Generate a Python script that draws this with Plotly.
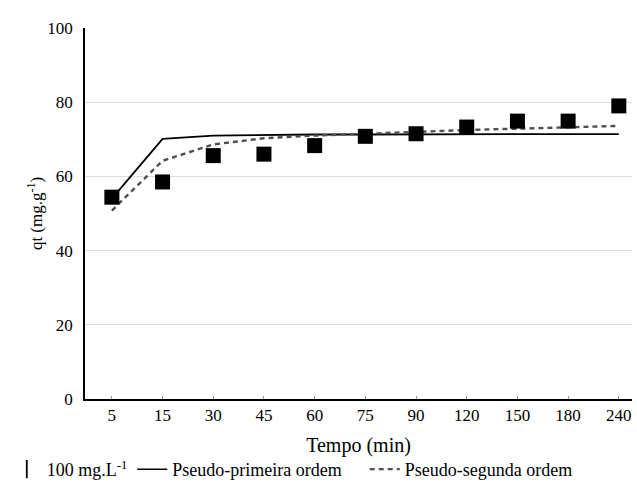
import plotly.graph_objects as go

tempo = ["5", "15", "30", "45", "60", "75", "90", "120", "150", "180", "240"]
qt_exp = [54.4, 58.5, 65.6, 66.0, 68.3, 70.8, 71.5, 73.3, 74.9, 74.9, 79.0]
qt_err = [0.8, 0.8, 0.8, 0.8, 0.8, 0.8, 0.8, 0.8, 0.8, 0.8, 0.8]
pfo = [54.0, 70.1, 71.0, 71.2, 71.3, 71.3, 71.4, 71.4, 71.4, 71.4, 71.4]
pso = [50.8, 64.2, 68.6, 70.3, 71.0, 71.6, 72.0, 72.5, 72.9, 73.1, 73.6]

font_family = "Liberation Serif, Times New Roman, serif"
NB = "\u00a0"

fig = go.Figure()
fig.add_trace(go.Scatter(
    x=tempo, y=pfo, mode="lines", name="Pseudo-primeira ordem",
    line=dict(color="black", width=1.8), showlegend=False))
fig.add_trace(go.Scatter(
    x=tempo, y=pso, mode="lines", name="Pseudo-segunda ordem",
    line=dict(color="#505050", width=2.4, dash="5px,4px"), showlegend=False))
fig.add_trace(go.Scatter(
    x=tempo, y=qt_exp, mode="markers", name="100 mg.L<sup>-1</sup>",
    marker=dict(symbol="square", size=15, color="black"),
    error_y=dict(type="data", array=qt_err, color="black", thickness=1, width=3),
    showlegend=False))

# legend entries
fig.add_trace(go.Scatter(
    x=[None], y=[None], mode="markers", name="100 mg.L<sup>-1</sup>",
    marker=dict(symbol="line-ns-open", size=13, color="black", line=dict(width=1.8))))
fig.add_trace(go.Scatter(
    x=[None], y=[None], mode="lines", name="Pseudo-primeira ordem" + NB * 4,
    line=dict(color="black", width=1.6)))
fig.add_trace(go.Scatter(
    x=[None], y=[None], mode="lines", name="Pseudo-segunda ordem",
    line=dict(color="#505050", width=2.2, dash="5px,4px")))

fig.update_layout(
    width=637, height=494,
    margin=dict(l=85, r=5, t=28, b=95),
    paper_bgcolor="white", plot_bgcolor="white",
    font=dict(family=font_family, size=17, color="black"),
    showlegend=True,
    legend=dict(orientation="h", x=-0.143, y=-0.19, xanchor="left", yanchor="middle",
                font=dict(size=18, family=font_family), itemwidth=30,
                bgcolor="rgba(0,0,0,0)", tracegroupgap=0),
)
fig.update_xaxes(
    type="category", range=[-0.53, 10.26], automargin=False,
    showline=True, linecolor="black", linewidth=1.5,
    ticks="inside", ticklen=3, tickcolor="#999999",
    showgrid=False, zeroline=False,
    title=dict(text="Tempo (min)", font=dict(size=20), standoff=14),
    tickfont=dict(size=17),
)
fig.update_yaxes(
    range=[0, 100], tickvals=[0, 20, 40, 60, 80, 100], automargin=False,
    showline=True, linecolor="black", linewidth=1.5,
    showgrid=True, gridcolor="#dddddd", gridwidth=1,
    zeroline=False, ticks="", ticklabelstandoff=7,
    title=dict(text="qt (mg.g<sup>-1</sup>)", font=dict(size=17), standoff=0),
    tickfont=dict(size=17),
)

fig.write_html("out.html")
